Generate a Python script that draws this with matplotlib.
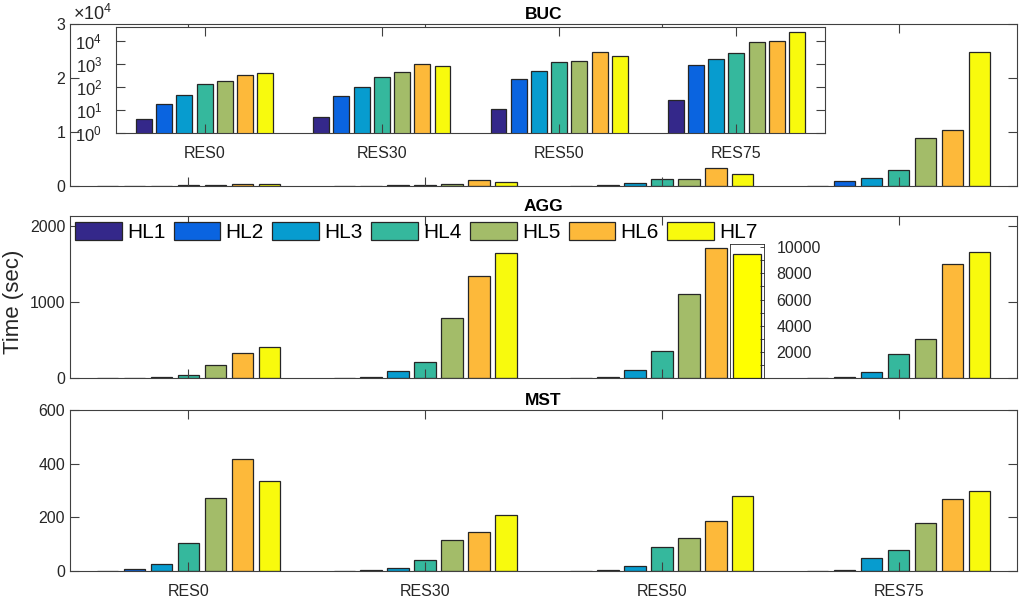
import matplotlib.pyplot as plt
import numpy as np
from matplotlib.ticker import LogLocator, MultipleLocator, NullFormatter

plt.rcParams['font.family'] = ['Liberation Sans', 'DejaVu Sans']
plt.rcParams['mathtext.fontset'] = 'custom'
plt.rcParams['mathtext.rm'] = 'Liberation Sans'
plt.rcParams['font.size'] = 11.5

groups = ['RES0', 'RES30', 'RES50', 'RES75']
series = ['HL1', 'HL2', 'HL3', 'HL4', 'HL5', 'HL6', 'HL7']
colors = ['#34288a', '#0a64e0', '#079ccf', '#35b89d', '#a3bc69', '#fdb93a', '#f8fa0d']

# one row per RES level, one value per HL series (seconds)
buc = [[4, 19, 45, 135, 180, 330, 420],
       [5, 42, 100, 270, 450, 1030, 790],
       [11, 215, 510, 1230, 1310, 3380, 2200],
       [28, 880, 1550, 2900, 8800, 10300, 24800]]
agg = [[1, 3, 10, 35, 171, 329, 408],
       [3, 8, 92, 210, 789, 1342, 1645],
       [2, 15, 105, 355, 1105, 1710, 9480],
       [2, 13, 79, 316, 513, 1500, 1660]]
mst = [[1, 8, 25, 104, 273, 417, 337],
       [1, 4, 13, 40, 114, 146, 210],
       [1, 5, 18, 89, 124, 185, 280],
       [1, 4, 47, 80, 178, 270, 300]]
agg_big = (2, 6)  # RES50 / HL7 goes on its own axis

edge = '#262626'
axcol = '#404040'

fig = plt.figure(figsize=(10.2, 6.03), dpi=100)


def px_axes(x0, y0, x1, y1):
    return fig.add_axes([x0 / 1020, 1 - y1 / 603, (x1 - x0) / 1020, (y1 - y0) / 603])


def style(ax):
    ax.tick_params(which='both', direction='in', top=True, right=True,
                   color=axcol, labelcolor='#262626', width=0.8)
    ax.tick_params(which='major', length=6.5)
    ax.tick_params(which='minor', length=3)
    for s in ax.spines.values():
        s.set_color(axcol)
        s.set_linewidth(0.8)


def draw_bars(ax, data, skip=None):
    x = np.arange(1, len(groups) + 1)
    for j in range(len(series)):
        vals = np.array([row[j] for row in data], dtype=float)
        if skip is not None and skip[1] == j:
            vals[skip[0]] = np.nan
        ax.bar(x + (j - 3) * 0.114, vals, 0.09, color=colors[j],
               edgecolor=edge, linewidth=0.9, label=series[j])
    ax.set_xlim(0.5, len(groups) + 0.5)
    ax.set_xticks(x)


# BUC
ax1 = px_axes(70, 24, 1017, 186)
draw_bars(ax1, buc)
ax1.set_ylim(0, 3e4)
ax1.set_yticks([0, 1e4, 2e4, 3e4], ['0', '1', '2', '3'])
ax1.set_xticklabels([])
ax1.text(0.003, 1.025, r'$\mathdefault{\times10^{4}}$', transform=ax1.transAxes,
         va='baseline', ha='left', color='#262626', fontsize=13)
ax1.set_title('BUC', fontweight='bold', fontsize=12.5, pad=3.5)
style(ax1)

ins1 = px_axes(116, 27, 825, 133)
draw_bars(ins1, buc)
ins1.set_yscale('log')
ins1.set_ylim(1, 10 ** 4.6)
ins1.set_yticks([1, 10, 100, 1e3, 1e4])
ins1.yaxis.set_minor_locator(LogLocator(subs=np.arange(2, 10)))
ins1.yaxis.set_minor_formatter(NullFormatter())
ins1.set_xticklabels(groups)
style(ins1)
ins1.tick_params(axis='x', pad=9)
ins1.tick_params(axis='y', pad=10, labelsize=12)

# AGG
ax2 = px_axes(70, 216, 1017, 378)
draw_bars(ax2, agg, skip=agg_big)
ax2.set_ylim(0, 2130)
ax2.set_yticks([0, 1000, 2000])
ax2.set_xticklabels([])
ax2.set_title('AGG', fontweight='bold', fontsize=12.5, pad=3.5)
style(ax2)
ax2.legend(ncol=7, loc='upper left', bbox_to_anchor=(0.005, 0.965), frameon=False,
           fontsize=15, handlelength=2.25, handleheight=0.96, handletextpad=0.25,
           columnspacing=0.4, borderaxespad=0, borderpad=0)

ins2 = px_axes(730, 244, 764, 378)
r, c = agg_big
ins2.bar([0], [agg[r][c]], 0.82, color='#ffff00', edgecolor=edge, linewidth=0.9)
ins2.set_xlim(-0.5, 0.5)
ins2.set_ylim(0, 10250)
ins2.set_xticks([])
ins2.yaxis.tick_right()
ins2.set_yticks([2000, 4000, 6000, 8000, 10000])
ins2.yaxis.set_minor_locator(MultipleLocator(1000))
ins2.tick_params(which='both', direction='in', left=False, right=True, length=3,
                 width=0.6, color='#262626', labelcolor='#262626', pad=9)
for s in ins2.spines.values():
    s.set_color('#262626')
    s.set_linewidth(0.6)

# MST
ax3 = px_axes(70, 410, 1017, 571)
draw_bars(ax3, mst)
ax3.set_ylim(0, 600)
ax3.set_yticks([0, 200, 400, 600])
ax3.set_xticklabels(groups)
ax3.set_title('MST', fontweight='bold', fontsize=12.5, pad=3.5)
style(ax3)
ax3.tick_params(axis='x', pad=9)

fig.text(0.0137, 0.5, 'Time (sec)', rotation=90, ha='center', va='center',
         fontsize=16, color='#262626')

fig.savefig('out.png', dpi=100)
